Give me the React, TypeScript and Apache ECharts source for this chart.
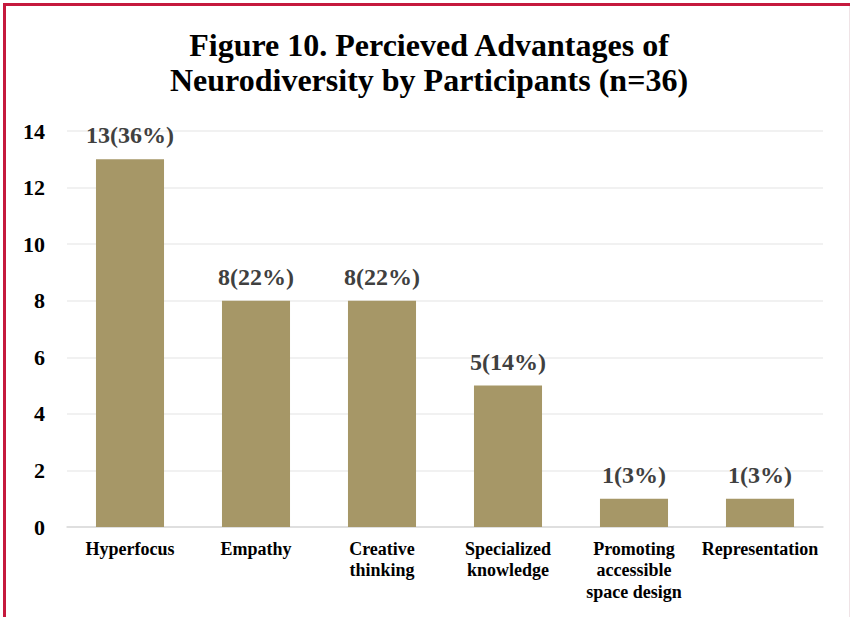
import React, { useEffect, useRef } from "react";
import * as echarts from "echarts";

// Perceived advantages of neurodiversity, counts from 36 participants
const categories = [
  "Hyperfocus",
  "Empathy",
  "Creative\nthinking",
  "Specialized\nknowledge",
  "Promoting\naccessible\nspace design",
  "Representation",
];
const counts = [13, 8, 8, 5, 1, 1];
const percents = [36, 22, 22, 14, 3, 3];
const yTicks = { min: 0, max: 14, interval: 2 };

const SERIF = "'Liberation Serif', 'Times New Roman', serif";
const BORDER = "#C5193D";

export default function App() {
  const ref = useRef<HTMLDivElement>(null);

  useEffect(() => {
    if (!ref.current) return;
    const chart = echarts.init(ref.current, undefined, { renderer: "svg" });
    chart.setOption({
      animation: false,
      backgroundColor: "#ffffff",
      title: {
        text: "Figure 10. Percieved Advantages of\nNeurodiversity by Participants (n=36)",
        left: 424,
        top: 22,
        textAlign: "center",
        textStyle: {
          fontFamily: SERIF,
          fontSize: 32,
          fontWeight: "bold",
          color: "#000000",
          lineHeight: 35,
        },
      },
      graphic: [
        {
          type: "line",
          shape: { x1: 3, y1: 4.5, x2: 850, y2: 4.5 },
          style: { stroke: BORDER, lineWidth: 3 },
        },
        {
          type: "line",
          shape: { x1: 4.5, y1: 3, x2: 4.5, y2: 617 },
          style: { stroke: BORDER, lineWidth: 3 },
        },
        {
          type: "line",
          shape: { x1: 849.5, y1: 6, x2: 849.5, y2: 617 },
          style: { stroke: "#efe3e6", lineWidth: 1 },
        },
      ],
      grid: { left: 67, right: 27, top: 131, bottom: 90, containLabel: false },
      xAxis: {
        type: "category",
        data: categories,
        axisTick: { show: false },
        axisLine: { lineStyle: { color: "#d9d9d9", width: 1.5 } },
        axisLabel: {
          interval: 0,
          margin: 11,
          fontFamily: SERIF,
          fontSize: 18,
          fontWeight: "bold",
          color: "#000000",
          lineHeight: 21.5,
        },
      },
      yAxis: {
        type: "value",
        min: yTicks.min,
        max: yTicks.max,
        interval: yTicks.interval,
        axisLine: { show: false },
        axisTick: { show: false },
        splitLine: { lineStyle: { color: "#ececec", width: 1.5 } },
        axisLabel: {
          margin: 22,
          fontFamily: SERIF,
          fontSize: 22,
          fontWeight: "bold",
          color: "#000000",
        },
      },
      series: [
        {
          type: "bar",
          data: counts,
          barWidth: "54%",
          itemStyle: { color: "#A69767" },
          label: {
            show: true,
            position: "top",
            distance: 12,
            fontFamily: SERIF,
            fontSize: 24,
            fontWeight: "bold",
            color: "#404040",
            formatter: (p: any) => `${counts[p.dataIndex]}(${percents[p.dataIndex]}%)`,
          },
        },
      ],
    });
    return () => chart.dispose();
  }, []);

  return (
    <div
      ref={ref}
      style={{ position: "absolute", left: 0, top: 0, width: 850, height: 617 }}
    />
  );
}
